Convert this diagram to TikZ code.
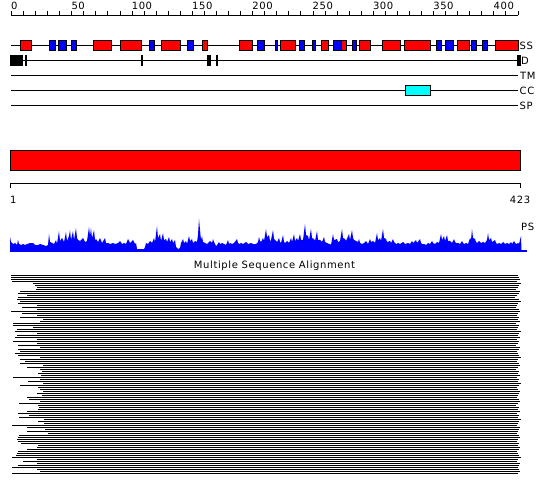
\documentclass[tikz,border=0pt]{standalone}
\usepackage{fontspec}
\usepackage{tikz}
\newfontfamily\plotfont{DejaVu Sans}[LetterSpace=6]
\definecolor{helixred}{RGB}{255, 0, 0}
\definecolor{strandblue}{RGB}{0, 0, 255}
\definecolor{coilcyan}{RGB}{0, 255, 255}

\begin{document}
\begin{tikzpicture}[
    x=1pt, y=-1pt,
    track/.style={draw, line width=1pt},
    helix/.style={draw, line width=1pt, fill=helixred},
    strand/.style={draw, line width=1pt, fill=strandblue},
    dis/.style={fill=black},
    ccbox/.style={draw, line width=1pt, fill=coilcyan},
    tickmark/.style={draw, line width=1pt},
    lbl/.style={font=\plotfont\fontsize{10}{12}\selectfont, inner sep=0pt},
    msa/.style={draw, line width=1pt}
]
\useasboundingbox (0,0) rectangle (550,495);

% Ruler
\draw[track] (11,15.5) -- (518,15.5);
\foreach \i in {0,...,42}
  \draw[tickmark] ({11.5+12.06*\i},15.5) -- ++(0,-4);
\foreach \v [count=\k from 0] in {0,50,100,150,200,250,300,350,400}
  \node[lbl, anchor=base west] (rl\k) at ({11+60.3*\k},9.5) {\v};

% Secondary structure
\draw[track] (11,45.5) -- (518,45.5);
\foreach \a/\b in {49.5/55.5, 58.5/66.5, 71.5/76.5, 149.5/154.5, 187.5/193.5, 257.5/264.5, 275.5/277.5, 299.5/304.5, 312.5/315.5, 333.5/341, 352.5/356.5, 436.5/441.5, 445.5/453.5, 471.5/476.5, 482.5/487.5}
  \draw[strand] (\a,40.5) rectangle (\b,50.5);
\foreach \a/\b in {20.5/31.5, 93.5/111.5, 120.5/141.5, 161.5/180.5, 202.5/207.5, 239.5/252.5, 280.5/295.5, 321.5/328.5, 341/346.5, 359.5/370.5, 382.5/400.5, 404.5/430.5, 457.5/469.5, 495.5/518.5}
  \draw[helix] (\a,40.5) rectangle (\b,50.5);
\node[lbl, anchor=west] (ssl) at (519.5,45.5) {SS};

% Disorder
\draw[track] (11,60.5) -- (518,60.5);
\foreach \a/\b in {10/23, 25/27, 141/143, 207/211, 216/218, 517/521}
  \fill[dis] (\a,55) rectangle (\b,66);
\node[lbl, anchor=west] (dl) at (521,60.5) {D};

% TM, CC, SP
\draw[track] (11,75.5) -- (518,75.5);
\node[lbl, anchor=west] (tml) at (520,75.5) {TM};
\draw[track] (11,90.5) -- (518,90.5);
\draw[ccbox] (405.5,85.5) rectangle (430.5,95.5);
\node[lbl, anchor=west] (ccl) at (519.5,90.5) {CC};
\draw[track] (11,105.5) -- (518,105.5);
\node[lbl, anchor=west] (spl) at (519.5,105.5) {SP};

% Domain bar
\draw[line width=1pt, fill=helixred] (10.5,150.5) rectangle (520,171);

% Sequence ruler
\draw[track] (10.5,183.5) -- (520,183.5);
\draw[tickmark] (10.5,183.5) -- ++(0,4.5);
\draw[tickmark] (520,183.5) -- ++(0,4.5);
\node[lbl, anchor=base west] (startl) at (10,203.5) {1};
\node[lbl, anchor=base] (endl) at (520,203.5) {423};

% Profile
\begin{scope}[shift={(0,250)}, yscale=-1]
\fill[strandblue] plot coordinates {(10,0) (10,13) (11,8) (13,6) (15,7) (17,5) (18,10) (19,6) (21,5) (23,6) (25,5) (27,6) (30,7) (33,7) (35,5) (38,5) (40,6) (43,5) (46,4) (48,5) (49,16) (50,8) (52,7) (54,6) (56,10) (57,6) (59,19) (60,9) (62,12) (64,8) (66,18) (67,9) (69,14) (70,20) (71,10) (73,19) (74,10) (76,22) (77,12) (78,10) (80,9) (83,12) (85,8) (87,9) (89,23) (90,14) (91,22) (92,12) (94,20) (95,10) (96,11) (98,8) (100,12) (102,7) (105,12) (106,7) (108,7) (110,6) (113,7) (115,6) (118,7) (120,9) (122,6) (124,7) (126,6) (128,11) (130,7) (133,10) (135,6) (136,7) (137,1) (140,1) (144,1) (145,3) (146,7) (148,6) (150,9) (152,7) (154,12) (155,8) (157,24) (158,12) (160,16) (161,9) (163,17) (164,10) (166,11) (167,8) (169,13) (170,8) (172,11) (173,7) (175,10) (176,3) (178,1) (180,2) (181,7) (183,11) (184,7) (186,9) (187,6) (189,14) (190,9) (192,11) (193,7) (195,9) (197,8) (198,15) (199,31) (200,20) (201,10) (202,14) (203,8) (205,7) (207,6) (210,9) (212,7) (213,11) (214,8) (216,4) (217,5) (219,8) (220,6) (222,7) (224,6) (226,5) (228,10) (229,6) (230,7) (232,6) (234,7) (237,11) (238,7) (239,6) (241,7) (243,6) (246,8) (248,6) (251,7) (253,6) (256,6) (258,8) (259,13) (260,9) (261,8) (263,12) (264,9) (266,21) (267,13) (269,15) (270,9) (271,10) (273,20) (274,11) (276,9) (277,8) (279,12) (280,8) (281,7) (283,15) (284,8) (285,7) (287,9) (289,7) (291,12) (292,8) (294,16) (295,9) (297,12) (298,9) (300,16) (301,10) (303,10) (305,26) (306,15) (308,14) (309,10) (311,21) (312,12) (314,11) (315,9) (317,19) (318,10) (320,10) (322,8) (324,13) (325,8) (327,7) (329,6) (330,6) (331,5) (333,16) (334,10) (337,11) (338,8) (340,9) (342,21) (343,12) (345,11) (346,9) (349,16) (350,10) (352,20) (353,12) (354,10) (356,9) (358,8) (359,11) (360,7) (362,6) (364,7) (366,9) (368,6) (370,11) (371,8) (373,9) (375,7) (377,17) (378,10) (380,12) (381,9) (383,21) (384,12) (386,11) (387,8) (390,9) (391,7) (393,11) (394,8) (396,6) (398,7) (400,6) (403,8) (405,6) (408,7) (410,6) (412,9) (413,7) (416,10) (417,7) (420,11) (421,7) (422,6) (424,6) (426,5) (428,7) (430,6) (432,9) (433,7) (435,6) (437,8) (439,7) (441,16) (442,10) (444,14) (445,9) (447,15) (448,9) (450,9) (452,7) (454,11) (455,8) (456,7) (458,7) (460,6) (462,9) (463,7) (464,6) (466,7) (468,6) (470,12) (471,10) (472,21) (473,12) (475,11) (476,8) (477,7) (479,9) (481,7) (483,8) (485,7) (487,10) (488,17) (489,10) (491,12) (492,8) (495,10) (496,7) (497,6) (499,7) (501,6) (503,8) (505,6) (507,7) (509,6) (511,8) (512,6) (514,9) (515,7) (516,6) (518,7) (519,6) (520,10) (521,14) (521.5,0)} -- cycle;
\draw[strandblue, line width=2pt] (10,-0.5) -- (527,-0.5);
\end{scope}
\node[lbl, anchor=base west] (psl) at (521,230) {PS};

% Alignment
\node[lbl, anchor=base] (msal) at (274.5,268.5) {Multiple Sequence Alignment};
\foreach \l/\r [count=\i from 0] in {11/518, 11/519, 11/520, 12/517, 33/521, 35/519, 37/518, 36/516, 20/520, 18/519,
  27/517, 18/515, 17/519, 20/521, 18/518, 37/517, 22/516, 37/519, 11/520, 22/518,
  37/517, 20/519, 43/518, 40/520, 13/516, 13/519, 33/518, 17/517, 15/521, 37/519,
  17/518, 15/520, 37/517, 13/519, 37/518, 18/516, 40/520, 18/519, 20/517, 15/518,
  18/519, 40/521, 20/518, 25/517, 20/519, 43/520, 27/518, 40/516, 42/519, 38/518,
  41/520, 13/517, 40/519, 28/518, 43/521, 20/519, 38/517, 40/518, 43/520, 37/519,
  42/518, 27/517, 29/519, 40/520, 19/518, 38/516, 39/519, 38/518, 27/520, 18/517,
  29/519, 19/518, 44/521, 38/519, 44/518, 12/517, 27/520, 45/519, 27/518, 48/517,
  19/519, 18/520, 17/518, 18/517, 21/519, 38/518, 37/520, 27/519, 18/517, 17/518,
  16/519, 12/521, 37/518, 23/517, 37/520, 18/519, 12/518, 37/519, 40/520, 12/518}
  \draw[msa] (\l,{275.5+2*\i}) -- (\r,{275.5+2*\i});

\end{tikzpicture}
\end{document}
